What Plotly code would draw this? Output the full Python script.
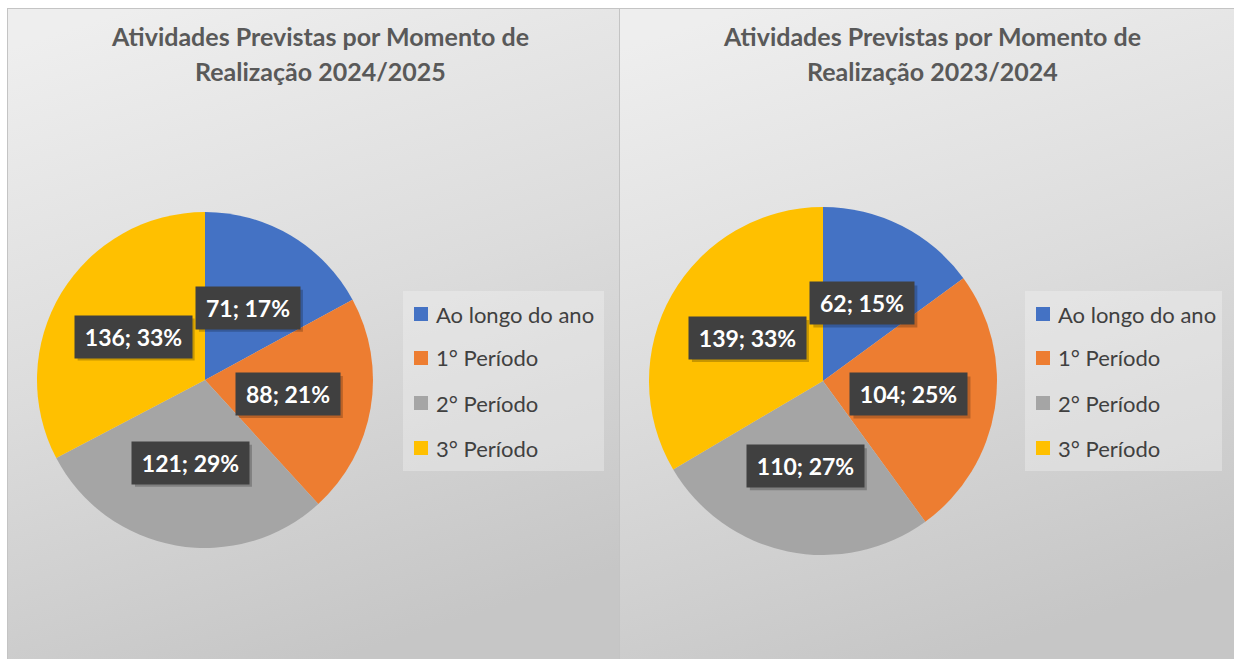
import base64
import math
import plotly.graph_objects as go

# ---------------- data ----------------
categories = ["Ao longo do ano", "1° Período", "2° Período", "3° Período"]
values_2024_2025 = [71, 88, 121, 136]
values_2023_2024 = [62, 104, 110, 139]
titles = [
    ["Atividades Previstas por Momento de", "Realização 2024/2025"],
    ["Atividades Previstas por Momento de", "Realização 2023/2024"],
]
slice_colors = ["#4472C4", "#ED7D31", "#A5A5A5", "#FFC000"]

# ---------------- layout constants (pixels) ----------------
W, H = 1234, 659
FONT = "Lato, 'Open Sans', sans-serif"
panels = [
    dict(values=values_2024_2025, cx=205, cy=380, r=168, title=titles[0], tx=320,
         leg=(403, 291, 604, 471), leg_sq_x=414, leg_txt_x=434),
    dict(values=values_2023_2024, cx=823, cy=381, r=174, title=titles[1], tx=932,
         leg=(1025, 291, 1222, 471), leg_sq_x=1036, leg_txt_x=1056),
]
leg_rows = [314, 358, 403, 448]


def px(x):
    return x / W


def py(y):
    return 1 - y / H


# background: two panels with grey gradients
svg = f"""<svg xmlns='http://www.w3.org/2000/svg' width='{W}' height='{H}' viewBox='0 0 {W} {H}'>
<defs>
<linearGradient id='g' x1='0.2' y1='0' x2='0.5' y2='1'>
<stop offset='0' stop-color='#eeeeee'/>
<stop offset='0.5' stop-color='#dcdcdc'/>
<stop offset='1' stop-color='#c6c6c6'/>
</linearGradient>
</defs>
<rect x='0' y='0' width='{W}' height='{H}' fill='#ffffff'/>
<rect x='7.5' y='8.5' width='612' height='{H}' fill='url(#g)' stroke='#c4c4c4' stroke-width='1'/>
<rect x='619.5' y='8.5' width='{W-610}' height='{H}' fill='url(#g)' stroke='#c4c4c4' stroke-width='1'/>
</svg>"""
bg_src = "data:image/svg+xml;base64," + base64.b64encode(svg.encode()).decode()

fig = go.Figure()
shapes = []
annotations = []

for p in panels:
    vals = p["values"]
    total = sum(vals)
    fig.add_trace(go.Pie(
        labels=categories,
        values=vals,
        sort=False,
        direction="clockwise",
        rotation=0,
        marker=dict(colors=slice_colors, line=dict(width=0)),
        textinfo="none",
        hoverinfo="label+value+percent",
        showlegend=False,
        domain=dict(x=[px(p["cx"] - p["r"]), px(p["cx"] + p["r"])],
                    y=[py(p["cy"] + p["r"]), py(p["cy"] - p["r"])]),
    ))

    # data labels
    cum = 0
    for v in vals:
        mid = (cum + v / 2) / total * 2 * math.pi
        cum += v
        rr = 0.5 * p["r"]
        lx = p["cx"] + rr * math.sin(mid)
        ly = p["cy"] - rr * math.cos(mid)
        txt = f"{v}; {round(v / total * 100)}%"
        bw = 104 if len(txt) <= 7 else 117
        bh = 42
        shapes.append(dict(type="rect", xref="paper", yref="paper", layer="above",
                           x0=px(lx - bw / 2 + 3), x1=px(lx + bw / 2 + 3),
                           y0=py(ly + bh / 2 + 3), y1=py(ly - bh / 2 + 3),
                           fillcolor="rgba(0,0,0,0.22)", line=dict(width=0)))
        annotations.append(dict(
            x=px(lx), y=py(ly), xref="paper", yref="paper", text=f"<b>{txt}</b>",
            showarrow=False, xanchor="center", yanchor="middle",
            width=bw, height=bh, bgcolor="#404040", borderpad=0,
            font=dict(family=FONT, size=23, color="#ffffff"),
        ))

    # titles
    for i, line in enumerate(p["title"]):
        annotations.append(dict(
            x=px(p["tx"]), y=py(36 + i * 35), xref="paper", yref="paper",
            text=f"<b>{line}</b>", showarrow=False, xanchor="center", yanchor="middle",
            font=dict(family=FONT, size=25, color="#595959"),
        ))

    # legend
    x0, y0, x1, y1 = p["leg"]
    shapes.append(dict(type="rect", xref="paper", yref="paper", layer="below",
                       x0=px(x0), x1=px(x1), y0=py(y1), y1=py(y0),
                       fillcolor="rgba(245,245,245,0.35)", line=dict(width=0)))
    for cat, col, ry in zip(categories, slice_colors, leg_rows):
        shapes.append(dict(type="rect", xref="paper", yref="paper", layer="above",
                           x0=px(p["leg_sq_x"]), x1=px(p["leg_sq_x"] + 14),
                           y0=py(ry + 7), y1=py(ry - 7),
                           fillcolor=col, line=dict(width=0)))
        annotations.append(dict(
            x=px(p["leg_txt_x"]), y=py(ry), xref="paper", yref="paper",
            text=cat, showarrow=False, xanchor="left", yanchor="middle",
            font=dict(family=FONT, size=22, color="#404040"),
        ))

fig.update_layout(
    width=W, height=H,
    margin=dict(l=0, r=0, t=0, b=0),
    paper_bgcolor="#ffffff",
    plot_bgcolor="rgba(0,0,0,0)",
    showlegend=False,
    shapes=shapes,
    annotations=annotations,
    images=[dict(source=bg_src, xref="paper", yref="paper", x=0, y=1,
                 sizex=1, sizey=1, sizing="stretch", layer="below",
                 xanchor="left", yanchor="top")],
)

fig.write_html(
    "out.html",
    config={"displayModeBar": False},
    post_script="document.body.style.margin='0';document.body.style.overflow='hidden';",
)
